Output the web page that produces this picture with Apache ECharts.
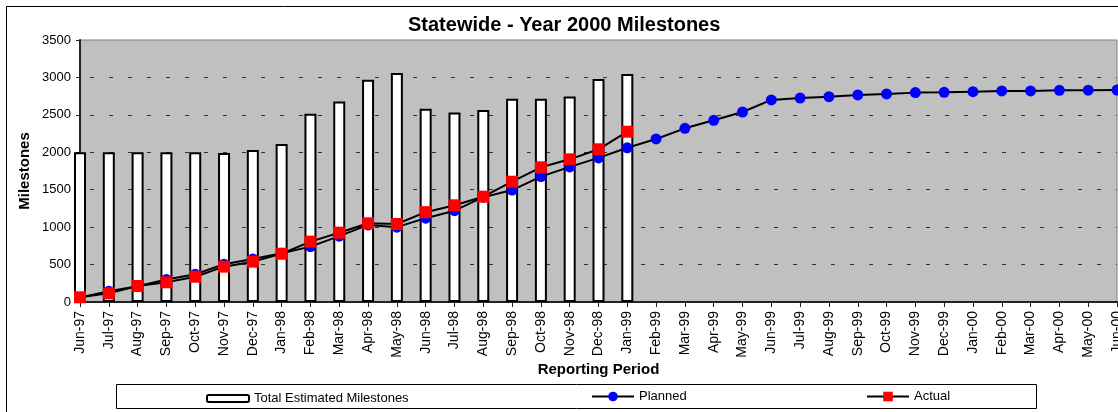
<!DOCTYPE html>
<html>
<head>
<meta charset="utf-8">
<title>Statewide - Year 2000 Milestones</title>
<script src="https://cdn.jsdelivr.net/npm/echarts@6/dist/echarts.min.js"></script>
<style>
  html, body { margin: 0; padding: 0; background: #fff; }
  #chart { width: 1118px; height: 412px; }
</style>
</head>
<body>
<div id="chart"></div>
<script>
const months = [
  "Jun-97", "Jul-97", "Aug-97", "Sep-97", "Oct-97", "Nov-97", "Dec-97",
  "Jan-98", "Feb-98", "Mar-98", "Apr-98", "May-98", "Jun-98", "Jul-98",
  "Aug-98", "Sep-98", "Oct-98", "Nov-98", "Dec-98", "Jan-99", "Feb-99",
  "Mar-99", "Apr-99", "May-99", "Jun-99", "Jul-99", "Aug-99", "Sep-99",
  "Oct-99", "Nov-99", "Dec-99", "Jan-00", "Feb-00", "Mar-00", "Apr-00",
  "May-00", "Jun-00"
];
const totalEstimated = [2000, 2000, 2000, 2000, 2000, 1990, 2030, 2110, 2515, 2680,
  2970, 3060, 2580, 2530, 2565, 2715, 2715, 2745, 2980, 3045];
const planned = [60, 145, 210, 300, 370, 505, 575, 650, 740, 880, 1030, 1000, 1120,
  1220, 1400, 1495, 1675, 1805, 1925, 2060, 2178, 2320, 2427, 2538, 2700, 2725,
  2743, 2766, 2780, 2797, 2801, 2810, 2819, 2820, 2828, 2830, 2832];
const actual = [63, 116, 214, 263, 338, 472, 539, 645, 806, 926, 1051, 1042, 1200,
  1292, 1407, 1607, 1799, 1906, 2040, 2275];

const FONT = "'Liberation Sans', Arial, sans-serif";

const chart = echarts.init(document.getElementById("chart"), null, { renderer: "canvas" });

chart.setOption({
  animation: false,
  textStyle: { fontFamily: FONT, color: "#000" },
  title: {
    text: "Statewide - Year 2000 Milestones",
    left: 408,
    top: 15,
    padding: 0,
    textStyle: { fontFamily: FONT, fontSize: 20, fontWeight: "bold", color: "#000" }
  },
  grid: {
    left: 80, right: 1, top: 40, bottom: 110,
    outerBoundsMode: "none",
    containLabel: false,
    show: true,
    backgroundColor: "#C0C0C0",
    borderColor: "#808080",
    borderWidth: 1
  },
  legend: [
    {
      data: ["Total Estimated Milestones"],
      left: 206, top: 392, padding: 0,
      itemWidth: 42, itemHeight: 7,
      selectedMode: false,
      textStyle: { fontFamily: FONT, fontSize: 13, color: "#000" }
    },
    {
      data: ["Planned"],
      left: 591, top: 390, padding: 0,
      itemWidth: 42, itemHeight: 12,
      selectedMode: false,
      textStyle: { fontFamily: FONT, fontSize: 13, color: "#000" }
    },
    {
      data: ["Actual"],
      left: 866, top: 390, padding: 0,
      itemWidth: 42, itemHeight: 12,
      selectedMode: false,
      textStyle: { fontFamily: FONT, fontSize: 13, color: "#000" }
    }
  ],
  xAxis: {
    type: "category",
    data: months,
    boundaryGap: false,
    name: "Reporting Period",
    nameLocation: "middle",
    nameGap: 60,
    nameMoveOverlap: false,
    nameTextStyle: { fontFamily: FONT, fontSize: 15, fontWeight: "bold", color: "#000" },
    axisLine: { lineStyle: { color: "#222", width: 2 } },
    axisTick: { show: true, length: 5, lineStyle: { color: "#222", width: 1 } },
    axisLabel: { rotate: 90, margin: 9, fontSize: 14, color: "#000", interval: 0 },
    splitLine: { show: false }
  },
  yAxis: {
    type: "value",
    min: 0, max: 3500, interval: 500,
    name: "Milestones",
    nameLocation: "middle",
    nameGap: 48,
    nameMoveOverlap: false,
    nameTextStyle: { fontFamily: FONT, fontSize: 15, fontWeight: "bold", color: "#000" },
    axisLine: { show: true, lineStyle: { color: "#222", width: 2 } },
    axisTick: { show: true, length: 4, lineStyle: { color: "#222", width: 1 } },
    axisLabel: { margin: 9, fontSize: 13, color: "#000", formatter: (v) => String(v) },
    splitLine: {
      show: true,
      lineStyle: {
        color: ["#333", "#333", "#333", "#333", "#333", "#333", "#333", "rgba(0,0,0,0)"],
        width: 1,
        type: [4, 15],
        dashOffset: 9
      }
    }
  },
  graphic: [
    {
      type: "rect", silent: true, z: -10,
      shape: { x: 6.5, y: 6.5, width: 1300, height: 600 },
      style: { fill: "none", stroke: "#000", lineWidth: 1 }
    },
    {
      type: "rect", silent: true, z: -5,
      shape: { x: 116.5, y: 384.5, width: 920, height: 24 },
      style: { fill: "#fff", stroke: "#000", lineWidth: 1 }
    }
  ],
  series: [
    {
      name: "Total Estimated Milestones",
      type: "bar",
      data: totalEstimated,
      barWidth: 12,
      clip: true,
      itemStyle: { color: "#fff", borderColor: "#000", borderWidth: 2 }
    },
    {
      name: "Planned",
      type: "line",
      data: planned,
      symbol: "circle",
      symbolSize: 11,
      showAllSymbol: true,
      itemStyle: { color: "#0000FF" },
      lineStyle: { color: "#000", width: 2 }
    },
    {
      name: "Actual",
      type: "line",
      data: actual,
      symbol: "rect",
      symbolSize: 12,
      showAllSymbol: true,
      itemStyle: { color: "#FF0000" },
      lineStyle: { color: "#000", width: 2 }
    }
  ]
});
</script>
</body>
</html>
